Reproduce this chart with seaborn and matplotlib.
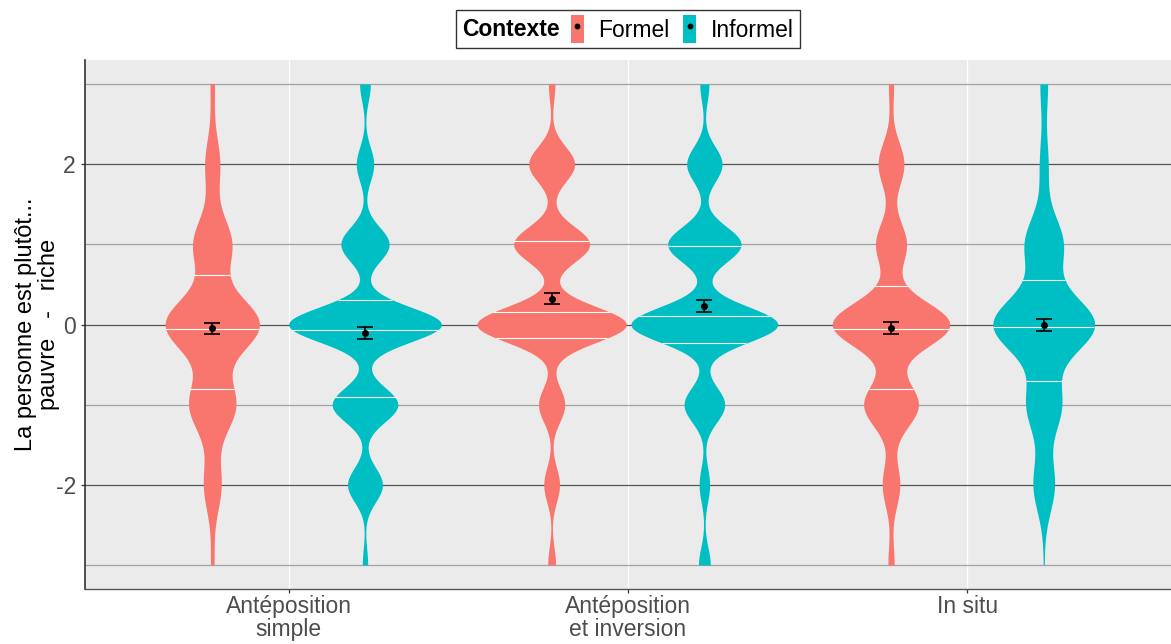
import numpy as np
import pandas as pd
import seaborn as sns
import matplotlib
matplotlib.use("Agg")
import matplotlib.pyplot as plt
from matplotlib.patches import Patch
from matplotlib.lines import Line2D
from matplotlib.legend_handler import HandlerTuple
from matplotlib.offsetbox import HPacker

plt.rcParams["font.family"] = ["Liberation Sans", "DejaVu Sans"]

conditions = ["Antéposition\nsimple", "Antéposition\net inversion", "In situ"]
contexts = ["Formel", "Informel"]
palette = {"Formel": "#F8766D", "Informel": "#00BFC4"}
levels = [-3, -2, -1, 0, 1, 2, 3]

# number of answers at each level, from -3 (pauvre) to 3 (riche)
simple_formel = [4, 20, 53, 107, 44, 17, 5]
simple_informel = [4, 26, 49, 114, 36, 13, 8]
inversion_formel = [6, 12, 20, 114, 58, 35, 5]
inversion_informel = [9, 8, 31, 112, 56, 27, 7]
situ_formel = [6, 17, 53, 114, 30, 25, 5]
situ_informel = [1, 25, 41, 119, 45, 10, 9]

# kernel bandwidth of each violin (same order as the counts)
bandwidths = [0.33, 0.215, 0.22, 0.22, 0.28, 0.34]

counts = [simple_formel, simple_informel, inversion_formel,
          inversion_informel, situ_formel, situ_informel]

# Long table, one row per answer
rows = []
k = 0
for cond in conditions:
    for ctx in contexts:
        for lev, n in zip(levels, counts[k]):
            rows += [(cond, ctx, lev)] * n
        k += 1
df = pd.DataFrame(rows, columns=["Condition", "Contexte", "Note"])


def kde(values, bw, grid):
    z = (grid[:, None] - values[None, :]) / bw
    return np.exp(-0.5 * z ** 2).sum(axis=1) / (len(values) * bw * np.sqrt(2 * np.pi))


# Densities, used to give every violin the same area (like ggplot scale="area")
groups = []
k = 0
for i, cond in enumerate(conditions):
    for j, ctx in enumerate(contexts):
        vals = df.loc[(df.Condition == cond) & (df.Contexte == ctx), "Note"].to_numpy(float)
        grid = np.linspace(vals.min(), vals.max(), 512)
        groups.append(dict(pos=i + (j - 0.5) * 0.45, ctx=ctx, vals=vals,
                           bw=bandwidths[k], grid=grid, dens=kde(vals, bandwidths[k], grid)))
        k += 1
peak = max(g["dens"].max() for g in groups)

fig = plt.figure(figsize=(11.71, 6.44), dpi=100)
ax = fig.add_axes([85 / 1171, 55 / 644, 1 - 85 / 1171, 529 / 644])
ax.set_facecolor("#EBEBEB")

for g in groups:
    sub = pd.DataFrame({"x": g["pos"], "Note": g["vals"]})
    sns.violinplot(data=sub, x="x", y="Note", native_scale=True, orient="x",
                   color=palette[g["ctx"]], saturation=1, linewidth=0, inner=None,
                   cut=0, gridsize=512, density_norm="width",
                   width=0.45 * g["dens"].max() / peak,
                   bw_method=g["bw"] / g["vals"].std(ddof=1), ax=ax)

    # quartiles of the density, drawn across the violin
    cdf = np.cumsum(g["dens"])
    cdf /= cdf[-1]
    qs = np.interp([0.25, 0.5, 0.75], cdf, g["grid"])
    half = 0.225 * np.interp(qs, g["grid"], g["dens"]) / peak
    ax.hlines(qs, g["pos"] - half, g["pos"] + half, color="white", lw=0.8, zorder=3)

    # mean +/- standard error
    m = g["vals"].mean()
    se = g["vals"].std(ddof=1) / np.sqrt(len(g["vals"]))
    ax.errorbar(g["pos"], m, yerr=se, fmt="o", color="black", ms=4,
                capsize=6, elinewidth=1.2, capthick=1.2, zorder=4)

ax.set_xlim(-0.6, 2.6)
ax.set_ylim(-3.3, 3.3)
ax.set_xticks(range(len(conditions)))
ax.set_xticklabels(conditions, linespacing=1.0)
ax.set_yticks([-2, 0, 2])
ax.set_yticklabels(["-2", "0", "2"])
ax.set_yticks([-3, -1, 1, 3], minor=True)
ax.set_axisbelow(True)
ax.grid(axis="y", which="major", color="#555555", lw=0.9)
ax.grid(axis="y", which="minor", color="#A3A3A3", lw=0.9)
ax.grid(axis="x", which="major", color="white", lw=1)
ax.tick_params(axis="y", which="minor", length=0)
ax.tick_params(which="major", labelsize=16.5, labelcolor="#4D4D4D",
               color="#333333", length=3, width=0.9)
ax.tick_params(axis="x", pad=1)
for side in ["top", "right"]:
    ax.spines[side].set_visible(False)
ax.spines["left"].set_color("#333333")
ax.spines["left"].set_linewidth(1.2)
ax.spines["bottom"].set_color("#555555")
ax.spines["bottom"].set_linewidth(1.0)
ax.set_xlabel("")
ax.set_ylabel("La personne est plutôt...\npauvre   -   riche", fontsize=17,
              color="black", labelpad=-3, linespacing=1.08)

# Legend on top, title to the left of the keys
handles = [(Patch(facecolor=palette[c], edgecolor="none"),
            Line2D([], [], marker="o", color="black", ls="", ms=3.2)) for c in contexts]
leg = fig.legend(handles, contexts, handler_map={tuple: HandlerTuple(ndivide=1, pad=0)},
                 title="Contexte", ncol=2, loc="center",
                 bbox_to_anchor=((85 + 1171) / 2 / 1171, 1 - 29 / 644),
                 fontsize=16.5, title_fontproperties={"weight": "bold", "size": 16.5},
                 handlelength=0.55, handleheight=1.45, handletextpad=0.65,
                 columnspacing=0.6, borderpad=0.25, fancybox=False,
                 edgecolor="#333333", framealpha=1)
leg.get_frame().set_linewidth(1)
leg._legend_box._children = [HPacker(children=[leg._legend_title_box, leg._legend_handle_box],
                                     align="center", pad=0, sep=8)]

fig.savefig("out.png", dpi=100)
